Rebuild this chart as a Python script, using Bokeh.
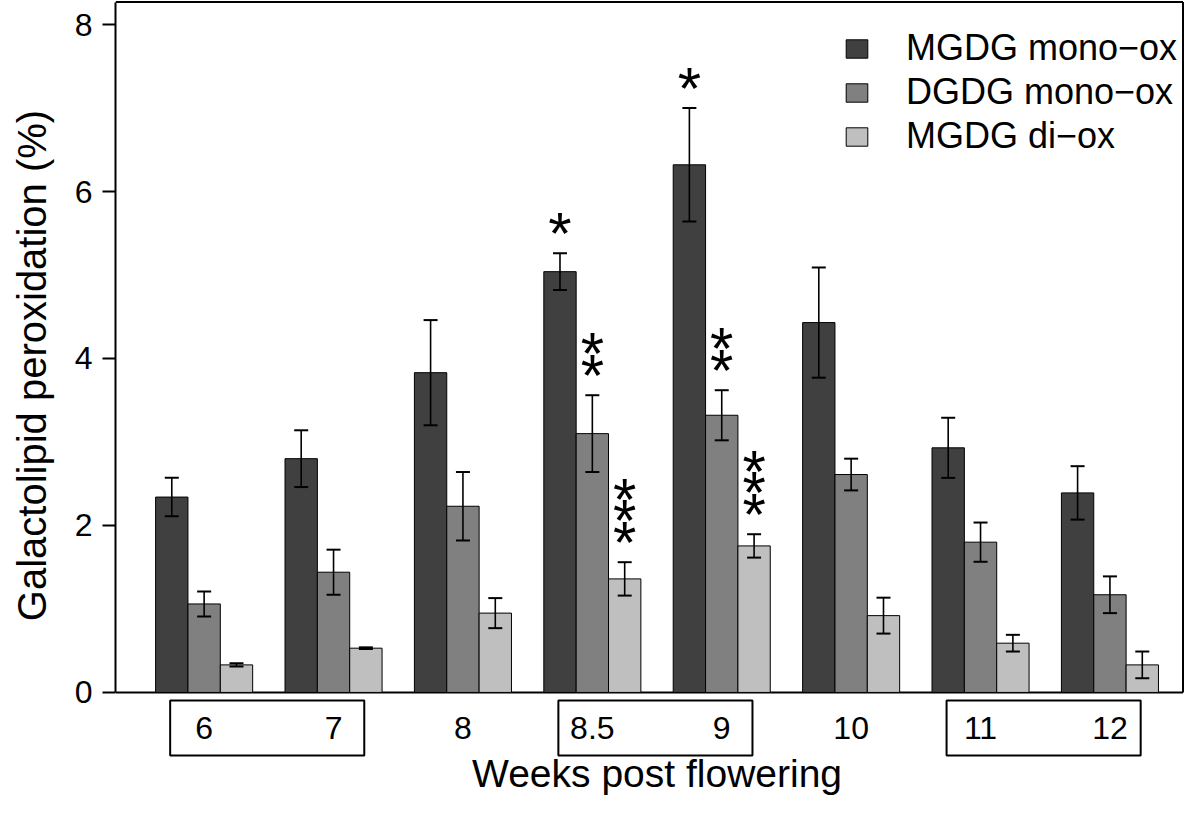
import math
from bokeh.plotting import figure
from bokeh.models import (ColumnDataSource, Range1d, FixedTicker, Whisker, TeeHead,
                          Legend, LegendItem)
from bokeh.layouts import row
from bokeh.embed import file_html
from bokeh.resources import INLINE
from bokeh.core.properties import value

# ---------------- data ----------------
weeks = ["6", "7", "8", "8.5", "9", "10", "11", "12"]
series_names = ["MGDG mono\u2212ox", "DGDG mono\u2212ox", "MGDG di\u2212ox"]
series_colors = ["#404040", "#808080", "#bfbfbf"]

mgdg_mono = [2.34, 2.80, 3.83, 5.04, 6.32, 4.43, 2.93, 2.39]
mgdg_mono_err = [0.23, 0.34, 0.63, 0.22, 0.68, 0.66, 0.36, 0.32]
dgdg_mono = [1.06, 1.44, 2.23, 3.10, 3.32, 2.61, 1.80, 1.17]
dgdg_mono_err = [0.15, 0.27, 0.41, 0.46, 0.30, 0.19, 0.235, 0.22]
mgdg_di = [0.33, 0.53, 0.95, 1.36, 1.755, 0.92, 0.59, 0.33]
mgdg_di_err = [0.02, 0.01, 0.18, 0.20, 0.14, 0.215, 0.10, 0.16]

stars_mgdg_mono = [0, 0, 0, 1, 1, 0, 0, 0]
stars_dgdg_mono = [0, 0, 0, 2, 2, 0, 0, 0]
stars_mgdg_di = [0, 0, 0, 3, 3, 0, 0, 0]

boxed_pairs = [("6", "7"), ("8.5", "9"), ("11", "12")]
y_ticks = [0, 2, 4, 6, 8]
y_top = 8.27          # upper limit of the plot box

values = [mgdg_mono, dgdg_mono, mgdg_di]
errors = [mgdg_mono_err, dgdg_mono_err, mgdg_di_err]
stars = [stars_mgdg_mono, stars_dgdg_mono, stars_mgdg_di]

# ---------------- layout constants (pixels) ----------------
FONT = "Liberation Sans"
W_TITLE = 60
W_MAIN = 1124
H = 798
LEFT = 55                 # frame starts at page x = W_TITLE + LEFT = 115
TOP_PX = 2                # plot-box top line
ZERO_PX = 692             # y = 0
X_SCALE = 32.35           # px per bar width

y_scale = (ZERO_PX - TOP_PX) / y_top
y_start = -(H - ZERO_PX) / y_scale
y_end = y_top + (TOP_PX - 0.5) / y_scale

centers = [2.5 + 4 * g for g in range(len(weeks))]
n_units = 4 * len(weeks)
x_start = 1 - 0.04 * (n_units - 1)
x_end = x_start + (W_MAIN - LEFT) / X_SCALE
x_edge = x_end - 1.5 / X_SCALE
x_mid = (x_start + n_units + 0.04 * (n_units - 1)) / 2

def px_below(d):
    return -d / y_scale

p = figure(width=W_MAIN, height=H, x_range=Range1d(x_start, x_end),
           y_range=Range1d(y_start, y_end), output_backend="svg",
           toolbar_location=None, x_axis_location=None,
           min_border_left=LEFT, min_border_right=0, min_border_top=0,
           min_border_bottom=0, background_fill_color="white",
           border_fill_color="white", outline_line_color=None)
p.xgrid.visible = False
p.ygrid.visible = False

ax = p.yaxis[0]
ax.bounds = (0, y_top)
ax.ticker = FixedTicker(ticks=y_ticks)
ax.axis_line_color = "black"
ax.axis_line_width = 2
ax.major_tick_in = 0
ax.major_tick_out = 13
ax.major_tick_line_width = 2
ax.major_tick_line_color = "black"
ax.minor_tick_line_color = None
ax.major_label_text_font = FONT
ax.major_label_text_font_size = "32px"
ax.major_label_text_color = "black"
ax.major_label_standoff = 10

# remaining three sides of the plot box
p.segment(x0=[x_start, x_edge, x_start], y0=[y_top, 0, 0],
          x1=[x_edge, x_edge, x_edge], y1=[y_top, y_top, 0],
          line_color="black", line_width=2)

renderers = []
for s in range(3):
    xs = [c - 1 + s for c in centers]
    src = ColumnDataSource(dict(
        x=xs, top=values[s],
        upper=[v + e for v, e in zip(values[s], errors[s])],
        lower=[v - e for v, e in zip(values[s], errors[s])],
    ))
    r = p.vbar(x="x", top="top", bottom=0, width=1, source=src,
               fill_color=series_colors[s], line_color="black", line_width=1)
    renderers.append(r)
    w = Whisker(source=src, base="x", upper="upper", lower="lower",
                dimension="height", line_color="black", line_width=1.6,
                level="overlay",
                upper_head=TeeHead(size=14, line_color="black", line_width=2),
                lower_head=TeeHead(size=14, line_color="black", line_width=2))
    p.add_layout(w)

    sx, sy, soff = [], [], []
    for i, n in enumerate(stars[s]):
        for k in range(n):
            sx.append(xs[i])
            sy.append(values[s][i] + errors[s][i])
            soff.append(-20 - 21.5 * k)
    if sx:
        p.text(x=sx, y=sy, y_offset=soff, text=["*"] * len(sx),
               text_font=value(FONT), text_font_size="60px",
               text_align="center", text_baseline="alphabetic",
               text_color="black")

legend = Legend(items=[LegendItem(label=series_names[s], renderers=[renderers[s]])
                       for s in range(3)],
                location=(728, 641), glyph_width=27, glyph_height=23,
                label_height=23, label_standoff=36, spacing=2, padding=10,
                label_text_font=FONT, label_text_font_size="36px",
                label_text_color="black", border_line_color=None,
                background_fill_alpha=0)
p.add_layout(legend)

# boxed week labels under the axis
idx = {w: i for i, w in enumerate(weeks)}
p.quad(left=[centers[idx[a]] - 1.05 for a, b in boxed_pairs],
       right=[centers[idx[b]] + 0.95 for a, b in boxed_pairs],
       top=px_below(8), bottom=px_below(63), fill_color=None,
       line_color="black", line_width=2)
p.text(x=centers, y=px_below(36), text=weeks, text_font=value(FONT),
       text_font_size="32px", text_align="center", text_baseline="middle",
       text_color="black")
p.text(x=[x_mid], y=[px_below(81)], text=["Weeks post flowering"],
       text_font=value(FONT), text_font_size="39px", text_align="center",
       text_baseline="middle", text_color="black")

# y-axis title in its own strip
t = figure(width=W_TITLE, height=H, x_range=Range1d(0, W_TITLE),
           y_range=Range1d(H, 0), output_backend="svg", toolbar_location=None,
           x_axis_location=None, y_axis_location=None, min_border_left=0,
           min_border_right=0, min_border_top=0, min_border_bottom=0,
           outline_line_color=None, background_fill_color="white",
           border_fill_color="white")
t.xgrid.visible = False
t.ygrid.visible = False
t.text(x=[31], y=[(TOP_PX + ZERO_PX) / 2 + 18], text=["Galactolipid peroxidation (%)"],
       angle=math.pi / 2, text_font=value(FONT), text_font_size="40px",
       text_align="center", text_baseline="middle", text_color="black")

layout = row(t, p)
open("out.html", "w").write(file_html(layout, INLINE))
